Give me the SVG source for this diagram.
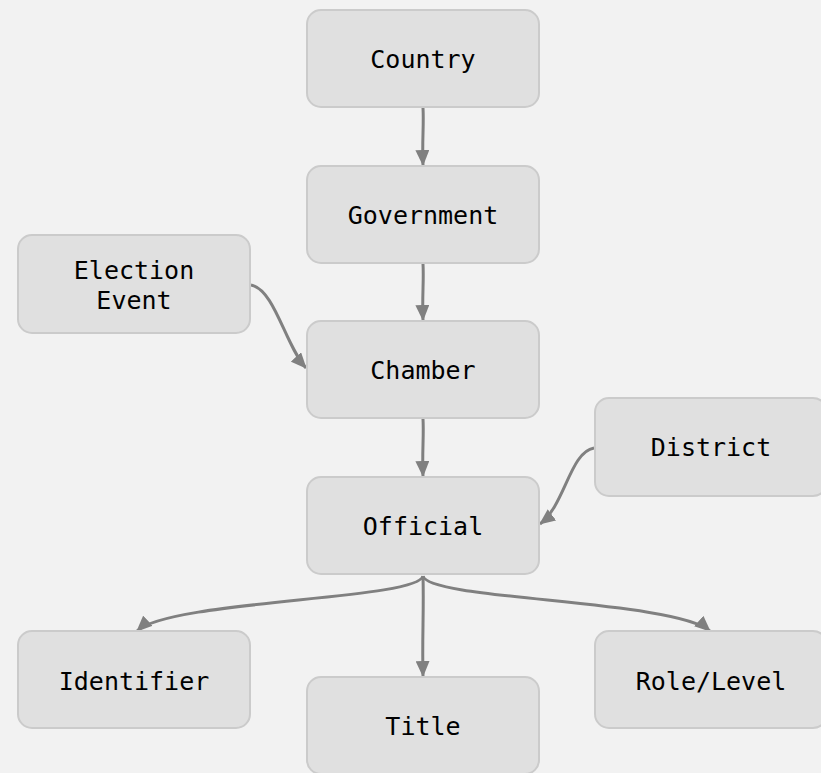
<svg xmlns="http://www.w3.org/2000/svg" width="821" height="773" viewBox="0 0 821 773">
<style>
.n rect{fill:#e0e0e0;stroke:#cbcbcb;stroke-width:2}
.n text{font-family:"DejaVu Sans Mono","Liberation Mono",monospace;font-size:25px;fill:#000;text-anchor:middle;dominant-baseline:central}
.e path{fill:none;stroke:#808080;stroke-width:3}
</style>
<defs>
<marker id="ah" viewBox="0 0 16 14" refX="15" refY="7" markerWidth="16" markerHeight="14" orient="auto" markerUnits="userSpaceOnUse">
<path d="M0,0 L16,7 L0,14 z" fill="#808080"/>
</marker>
</defs>
<rect width="821" height="773" fill="#f2f2f2"/>
<g class="e">
<path d="M423,108 C424,125 422,140 423,165" marker-end="url(#ah)"/>
<path d="M423,264 C424,280 422,296 423,320" marker-end="url(#ah)"/>
<path d="M423,419 C424,435 422,452 423,476" marker-end="url(#ah)"/>
<path d="M251,285 C275,290 285,345 306,368" marker-end="url(#ah)"/>
<path d="M594,448 C570,452 565,505 540,524" marker-end="url(#ah)"/>
<path d="M423,576 C418,600 170,600 137,631" marker-end="url(#ah)"/>
<path d="M423,576 C424,610 422,640 423,676" marker-end="url(#ah)"/>
<path d="M423,576 C428,600 675,600 710,631" marker-end="url(#ah)"/>
</g>
<g id="country" class="n"><rect x="307" y="10" width="232" height="97" rx="14"/><text x="423" y="59">Country</text></g>
<g id="government" class="n"><rect x="307" y="166" width="232" height="97" rx="14"/><text x="423" y="215">Government</text></g>
<g id="election" class="n"><rect x="18" y="235" width="232" height="98" rx="14"/><text x="134" y="270">Election</text><text x="134" y="300">Event</text></g>
<g id="chamber" class="n"><rect x="307" y="321" width="232" height="97" rx="14"/><text x="423" y="370">Chamber</text></g>
<g id="district" class="n"><rect x="595" y="398" width="232" height="98" rx="14"/><text x="711" y="447">District</text></g>
<g id="official" class="n"><rect x="307" y="477" width="232" height="97" rx="14"/><text x="423" y="526">Official</text></g>
<g id="identifier" class="n"><rect x="18" y="631" width="232" height="97" rx="14"/><text x="134" y="681">Identifier</text></g>
<g id="title" class="n"><rect x="307" y="677" width="232" height="97" rx="14"/><text x="423" y="726">Title</text></g>
<g id="role" class="n"><rect x="595" y="631" width="232" height="97" rx="14"/><text x="711" y="681">Role/Level</text></g>
</svg>
